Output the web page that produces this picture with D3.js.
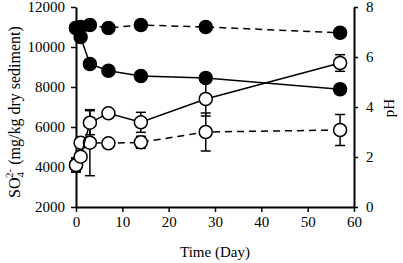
<!DOCTYPE html>
<html>
<head>
<meta charset="utf-8">
<script src="https://cdn.jsdelivr.net/npm/d3@7"></script>
<style>
  body { margin: 0; background: #fff; }
  text { font-family: "Liberation Serif", "Times New Roman", serif; fill: #000; }
</style>
</head>
<body>
<div id="chart"></div>
<script>
// Data
const days = [0, 1, 3, 7, 14, 28, 57];

// filled markers, right axis (pH)
const phDashed = [7.16, 7.2, 7.28, 7.16, 7.28, 7.2, 6.97];
const phSolid = [7.16, 6.8, 5.72, 5.45, 5.24, 5.16, 4.71];
const phSolidErr = [0, 0, 0.1, 0.08, 0.08, 0.1, 0.16];

// open markers, left axis (SO4 2-)
const so4Solid = [4100, 4515, 6215, 6685, 6235, 7400, 9200];
const so4SolidErr = [350, 0, 600, 0, 500, 850, 415];
const so4Dashed = [4100, 5215, 5215, 5185, 5235, 5750, 5850];
const so4DashedErr = [350, 0, 1650, 0, 300, 950, 775];

const xTicks = [0, 10, 20, 30, 40, 50, 60];
const yLeftTicks = [2000, 4000, 6000, 8000, 10000, 12000];
const yRightTicks = [0, 2, 4, 6, 8];

// Chart dimensions
let w = 403, h = 263;
let padL = 76, padR = 354, padT = 7, padB = 207;

let svg = d3.select("#chart").append("svg").attr("width", w).attr("height", h);

let x = d3.scaleLinear().domain([0, 60]).range([padL, padR]);
let yL = d3.scaleLinear().domain([2000, 12000]).range([padB, padT]);
let yR = d3.scaleLinear().domain([0, 8]).range([padB, padT]);

// Axes
let axL = svg.append("g").attr("transform", "translate(" + padL + ",0)")
  .call(d3.axisLeft(yL).tickValues(yLeftTicks).tickFormat(d3.format("d")).tickSize(5).tickSizeOuter(0).tickPadding(6));
let axR = svg.append("g").attr("transform", "translate(" + padR + ",0)")
  .call(d3.axisRight(yR).tickValues(yRightTicks).tickFormat(d3.format("d")).tickSize(4).tickSizeOuter(0).tickPadding(8));
let axB = svg.append("g").attr("transform", "translate(0," + padB + ")")
  .call(d3.axisBottom(x).tickValues(xTicks).tickFormat(d3.format("d")).tickSize(5).tickSizeOuter(0).tickPadding(4));

[axL, axR, axB].forEach(a => {
  a.attr("font-family", null);
  a.select(".domain").attr("stroke", "#000").attr("stroke-width", 2);
  a.selectAll(".tick line").attr("stroke", "#000").attr("stroke-width", 1.5);
  a.selectAll(".tick text").style("font-family", "'Liberation Serif', serif").style("font-size", "15px").attr("fill", "#000");
});

// Axis titles
svg.append("text").text("Time (Day)").attr("x", 215).attr("y", 257)
  .attr("text-anchor", "middle").style("font-size", "15px");
svg.append("text").text("pH").attr("transform", "translate(394,108) rotate(-90)")
  .attr("text-anchor", "middle").style("font-size", "15px");
let lt = svg.append("text").attr("transform", "translate(20,112) rotate(-90)")
  .attr("text-anchor", "middle").style("font-size", "16px");
lt.append("tspan").text("SO");
lt.append("tspan").text("4").attr("dy", 4).style("font-size", "11px");
lt.append("tspan").text("2-").attr("dx", -6).attr("dy", -11).style("font-size", "11px");
lt.append("tspan").text(" (mg/kg dry sediment)").attr("dy", 7);

// Draw one series: line, error bars, markers
function drawSeries(vals, errs, yScale, dashed, filled) {
  let pts = days.map((d, i) => ({ d: d, v: vals[i], e: errs ? errs[i] : 0 }));
  let line = d3.line().x(p => x(p.d)).y(p => yScale(p.v));
  svg.append("path").datum(pts).attr("d", line).attr("fill", "none")
    .attr("stroke", "#000").attr("stroke-width", 1.5)
    .attr("stroke-dasharray", dashed ? "7,5" : null);
  let eb = svg.append("g");
  pts.filter(p => p.e > 0).forEach(p => {
    let cx = x(p.d), y0 = yScale(p.v - p.e), y1 = yScale(p.v + p.e);
    eb.append("line").attr("x1", cx).attr("x2", cx).attr("y1", y0).attr("y2", y1).attr("stroke", "#000").attr("stroke-width", 1.5);
    [y0, y1].forEach(yy => eb.append("line").attr("x1", cx - 5).attr("x2", cx + 5).attr("y1", yy).attr("y2", yy).attr("stroke", "#000").attr("stroke-width", 1.5));
  });
  svg.append("g").selectAll("circle").data(pts).enter().append("circle")
    .attr("cx", p => x(p.d)).attr("cy", p => yScale(p.v)).attr("r", 6.5)
    .attr("fill", filled ? "#000" : "#fff").attr("stroke", "#000").attr("stroke-width", 1.5);
}

drawSeries(so4Dashed, so4DashedErr, yL, true, false);
drawSeries(so4Solid, so4SolidErr, yL, false, false);
drawSeries(phDashed, null, yR, true, true);
drawSeries(phSolid, phSolidErr, yR, false, true);
</script>
</body>
</html>
